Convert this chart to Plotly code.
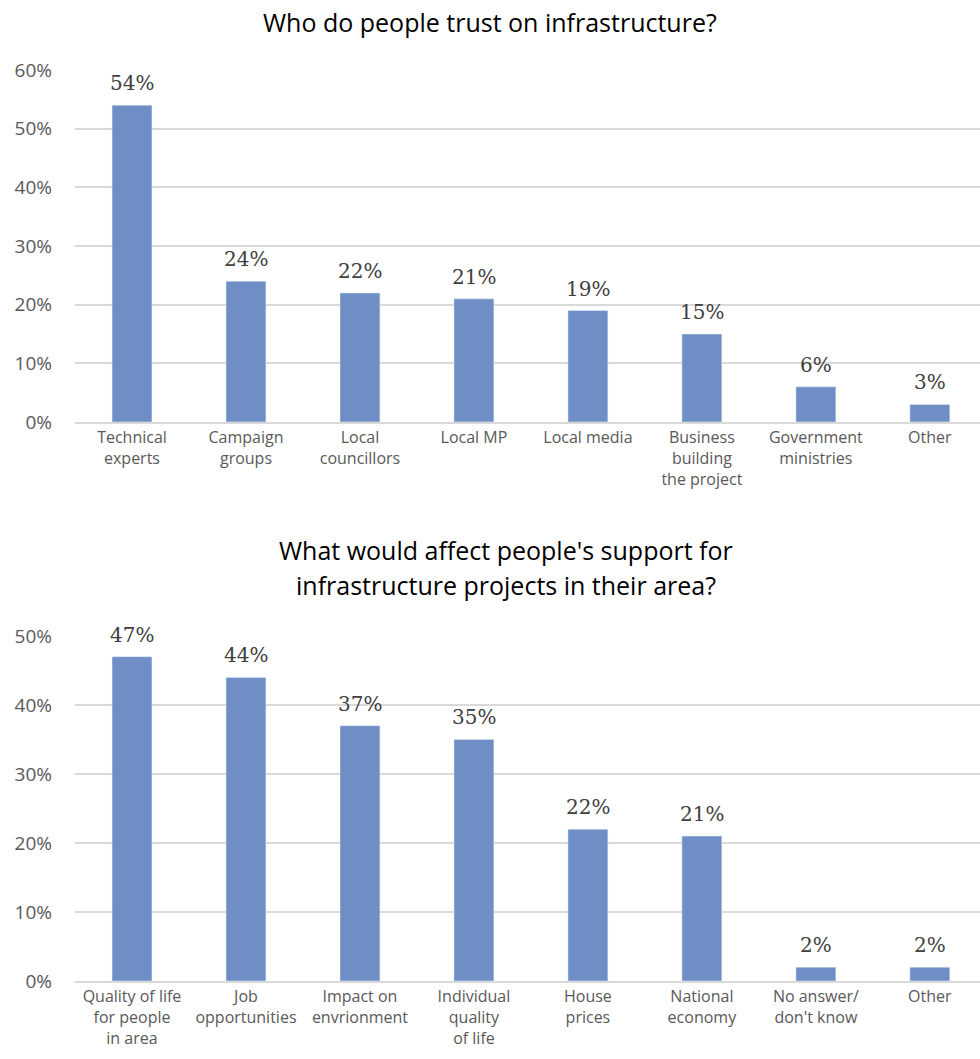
import plotly.graph_objects as go

# ---- data ----
trust_categories = ["Technical<br>experts", "Campaign<br>groups", "Local<br>councillors", "Local MP",
                    "Local media", "Business<br>building<br>the project", "Government<br>ministries", "Other"]
trust_values = [0.54, 0.24, 0.22, 0.21, 0.19, 0.15, 0.06, 0.03]

support_categories = ["Quality of life<br>for people<br>in area", "Job<br>opportunities", "Impact on<br>envrionment",
                      "Individual<br>quality<br>of life", "House<br>prices", "National<br>economy",
                      "No answer/<br>don't know", "Other"]
support_values = [0.47, 0.44, 0.37, 0.35, 0.22, 0.21, 0.02, 0.02]

title_top = "Who do people trust on infrastructure?"
title_bottom_lines = ["What would affect people's support for", "infrastructure projects in their area?"]

# ---- style ----
BAR = "#6F8EC6"
GRID = "#D9D9D9"
TICK = "#595959"
LABEL = "#404040"
SANS = "Open Sans"
SERIF = "DejaVu Serif"
W, H = 980, 1059

fig = go.Figure()
fig.add_trace(go.Bar(x=trust_categories, y=trust_values, marker_color=BAR, width=0.35,
                     xaxis="x", yaxis="y", hoverinfo="skip"))
fig.add_trace(go.Bar(x=support_categories, y=support_values, marker_color=BAR, width=0.35,
                     xaxis="x2", yaxis="y2", hoverinfo="skip"))

annotations = []
for cats, vals, xr, yr in [(trust_categories, trust_values, "x", "y"),
                           (support_categories, support_values, "x2", "y2")]:
    for c, v in zip(cats, vals):
        annotations.append(dict(x=c, y=v, xref=xr, yref=yr, text=f"{round(v*100)}%",
                                showarrow=False, yanchor="bottom", yshift=8,
                                font=dict(family=SERIF, size=20, color=LABEL)))

annotations.append(dict(x=0.5, y=1 - 22 / H, xref="paper", yref="paper", text=title_top,
                        showarrow=False, xanchor="center", yanchor="middle",
                        font=dict(family=SANS, size=25, color="#000000")))
for i, line in enumerate(title_bottom_lines):
    annotations.append(dict(x=506 / W, y=1 - (550 + 35 * i) / H, xref="paper", yref="paper", text=line,
                            showarrow=False, xanchor="center", yanchor="middle",
                            font=dict(family=SANS, size=25, color="#000000")))

xcommon = dict(domain=[75 / W, 1], range=[-0.5, 7.44], showgrid=False, showline=True,
               linecolor=GRID, linewidth=1.5, ticks="", automargin=False,
               tickfont=dict(family=SANS, size=16, color=TICK), ticklabelstandoff=0)
ycommon = dict(showgrid=True, gridcolor=GRID, gridwidth=1.5, zeroline=False, showline=False,
               tickformat=".0%", dtick=0.1, ticks="", automargin=False,
               tickfont=dict(family=SANS, size=19, color=TICK), ticklabelstandoff=22)

fig.update_layout(
    width=W, height=H, margin=dict(l=0, r=0, t=0, b=0),
    paper_bgcolor="white", plot_bgcolor="white", showlegend=False,
    xaxis=dict(**xcommon, anchor="y"),
    yaxis=dict(**ycommon, domain=[(H - 422) / H, (H - 70) / H], range=[0, 0.6], anchor="x"),
    xaxis2=dict(**xcommon, anchor="y2"),
    yaxis2=dict(**ycommon, domain=[(H - 981) / H, (H - 636) / H], range=[0, 0.5], anchor="x2"),
    annotations=annotations,
)

fig.write_html("out.html")
